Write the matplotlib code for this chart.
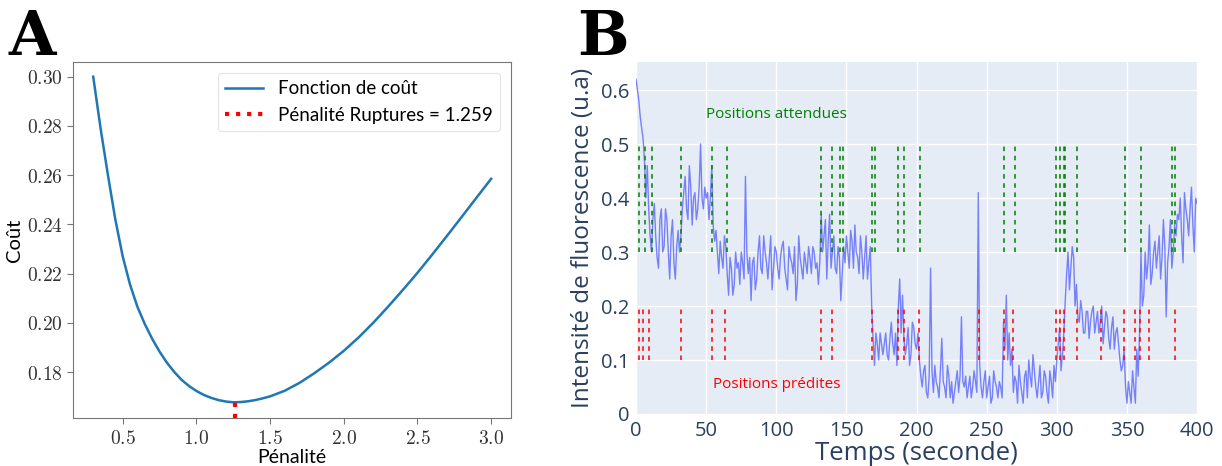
import numpy as np
import matplotlib
matplotlib.use("Agg")
import matplotlib.pyplot as plt
from matplotlib.ticker import FuncFormatter, MultipleLocator

plt.rcParams["mathtext.fontset"] = "cm"

# --- panneau A : fonction de coût en fonction de la pénalité
penalite = [0.30, 0.35, 0.40, 0.45, 0.50, 0.55, 0.60, 0.65, 0.70, 0.75, 0.80,
            0.85, 0.90, 0.95, 1.00, 1.05, 1.10, 1.15, 1.20, 1.25, 1.30, 1.35,
            1.40, 1.45, 1.50, 1.6, 1.7, 1.8, 1.9, 2.0, 2.1, 2.2, 2.3, 2.4, 2.5,
            2.6, 2.7, 2.8, 2.9, 3.0]
cout = [0.300, 0.279, 0.260, 0.242, 0.227, 0.2155, 0.2065, 0.1995, 0.1935,
        0.1883, 0.1838, 0.1800, 0.1768, 0.1743, 0.1723, 0.1707, 0.1695, 0.1686,
        0.1680, 0.1677, 0.1678, 0.1681, 0.1686, 0.1693, 0.1701, 0.1724, 0.1756,
        0.1795, 0.1838, 0.1886, 0.1940, 0.2000, 0.2065, 0.2133, 0.2203, 0.2277,
        0.2353, 0.2430, 0.2508, 0.2585]
pen_opt = 1.259
cout_min = 0.1677
cout_bas = 0.1612  # bas de l'axe

# --- panneau B : trace d'intensité, secondes paires puis impaires
intensite_paire = [
    0.62, 0.58, 0.53, 0.47, 0.46, 0.33, 0.36, 0.33, 0.27, 0.38,
    0.31, 0.36, 0.25, 0.36, 0.25, 0.34, 0.33, 0.41, 0.38, 0.46,
    0.35, 0.41, 0.38, 0.50, 0.38, 0.40, 0.36, 0.46, 0.32, 0.30,
    0.32, 0.27, 0.31, 0.22, 0.27, 0.24, 0.27, 0.24, 0.28, 0.44,
    0.26, 0.21, 0.29, 0.25, 0.33, 0.26, 0.30, 0.25, 0.33, 0.27,
    0.30, 0.25, 0.31, 0.27, 0.23, 0.29, 0.26, 0.21, 0.33, 0.27,
    0.30, 0.26, 0.29, 0.31, 0.27, 0.24, 0.37, 0.33, 0.25, 0.37,
    0.30, 0.27, 0.31, 0.21, 0.31, 0.33, 0.27, 0.32, 0.35, 0.29,
    0.33, 0.25, 0.33, 0.28, 0.20, 0.09, 0.13, 0.15, 0.11, 0.15,
    0.10, 0.17, 0.11, 0.09, 0.25, 0.22, 0.11, 0.16, 0.11, 0.16,
    0.12, 0.10, 0.05, 0.09, 0.03, 0.27, 0.04, 0.06, 0.03, 0.14,
    0.05, 0.09, 0.03, 0.02, 0.06, 0.04, 0.18, 0.05, 0.03, 0.07,
    0.05, 0.06, 0.41, 0.05, 0.06, 0.03, 0.07, 0.03, 0.06, 0.03,
    0.05, 0.17, 0.22, 0.15, 0.12, 0.07, 0.02, 0.06, 0.02, 0.08,
    0.10, 0.05, 0.08, 0.03, 0.09, 0.04, 0.07, 0.02, 0.06, 0.09,
    0.10, 0.16, 0.11, 0.21, 0.30, 0.27, 0.29, 0.24, 0.17, 0.19,
    0.15, 0.19, 0.17, 0.20, 0.17, 0.15, 0.20, 0.16, 0.18, 0.12,
    0.18, 0.15, 0.13, 0.08, 0.12, 0.02, 0.04, 0.08, 0.02, 0.07,
    0.30, 0.22, 0.25, 0.35, 0.26, 0.32, 0.30, 0.25, 0.36, 0.18,
    0.31, 0.27, 0.35, 0.37, 0.40, 0.28, 0.38, 0.33, 0.42, 0.30,
    0.39,
]
intensite_impaire = [
    0.60, 0.55, 0.51, 0.40, 0.38, 0.30, 0.39, 0.29, 0.36, 0.30,
    0.38, 0.30, 0.33, 0.28, 0.31, 0.30, 0.38, 0.44, 0.36, 0.42,
    0.40, 0.36, 0.42, 0.40, 0.42, 0.41, 0.40, 0.35, 0.34, 0.26,
    0.29, 0.33, 0.26, 0.29, 0.22, 0.30, 0.28, 0.30, 0.25, 0.30,
    0.29, 0.28, 0.23, 0.30, 0.27, 0.33, 0.28, 0.29, 0.23, 0.31,
    0.27, 0.29, 0.32, 0.25, 0.31, 0.28, 0.31, 0.24, 0.29, 0.25,
    0.28, 0.31, 0.26, 0.30, 0.28, 0.28, 0.30, 0.36, 0.32, 0.27,
    0.33, 0.26, 0.29, 0.26, 0.28, 0.30, 0.34, 0.27, 0.30, 0.26,
    0.30, 0.29, 0.25, 0.31, 0.14, 0.15, 0.10, 0.13, 0.13, 0.11,
    0.14, 0.13, 0.15, 0.20, 0.15, 0.14, 0.13, 0.09, 0.17, 0.13,
    0.15, 0.07, 0.08, 0.04, 0.07, 0.08, 0.09, 0.05, 0.08, 0.06,
    0.03, 0.07, 0.06, 0.04, 0.08, 0.07, 0.06, 0.07, 0.05, 0.03,
    0.08, 0.04, 0.09, 0.03, 0.08, 0.05, 0.02, 0.08, 0.05, 0.06,
    0.03, 0.12, 0.10, 0.09, 0.04, 0.06, 0.09, 0.04, 0.07, 0.03,
    0.07, 0.11, 0.05, 0.06, 0.03, 0.08, 0.04, 0.08, 0.03, 0.06,
    0.13, 0.08, 0.15, 0.26, 0.23, 0.31, 0.20, 0.18, 0.21, 0.15,
    0.19, 0.14, 0.19, 0.15, 0.19, 0.17, 0.13, 0.19, 0.14, 0.16,
    0.12, 0.16, 0.10, 0.09, 0.05, 0.06, 0.02, 0.05, 0.12, 0.15,
    0.20, 0.30, 0.28, 0.24, 0.30, 0.27, 0.33, 0.29, 0.31, 0.28,
    0.36, 0.30, 0.33, 0.36, 0.33, 0.41, 0.36, 0.38, 0.35, 0.40,
]
intensite = np.empty(len(intensite_paire) + len(intensite_impaire))
intensite[0::2] = intensite_paire
intensite[1::2] = intensite_impaire
temps = np.arange(len(intensite))  # une valeur par seconde

pos_attendues = [2.4, 6.4, 11.2, 32.1, 54.0, 65.1, 132.2, 139.5, 145.5, 147.4,
                 168.0, 170.4, 186.6, 191.1, 202.6, 262.6, 270.2, 299.7, 302.6,
                 304.8, 305.8, 314.2, 348.7, 360.2, 382.0, 384.6]
pos_predites = [2.4, 5.2, 9.3, 32.1, 54.0, 63.2, 132.2, 139.7, 168.2, 186.6,
                191.1, 202.0, 244.6, 262.3, 269.0, 299.7, 302.5, 305.0, 314.2,
                331.6, 347.8, 356.0, 359.4, 365.6, 384.6]

PLOTLY_TXT = "#2a3f5f"

fig = plt.figure(figsize=(12.22, 4.66), dpi=100)

# ---------------- A
axA = fig.add_axes([0.0600, 0.1024, 0.3582, 0.7652])
axA.plot(penalite, cout, color="#1f77b4", lw=1.8, label="Fonction de coût")
axA.vlines(pen_opt, cout_bas, cout_min, colors="red", linestyles=":", lw=3,
           label=f"Pénalité Ruptures = {pen_opt}")
axA.set_xlim(0.165, 3.135)
axA.set_ylim(cout_bas, 0.3061)
axA.xaxis.set_major_locator(MultipleLocator(0.5))
axA.yaxis.set_major_locator(MultipleLocator(0.02))
axA.xaxis.set_major_formatter(FuncFormatter(lambda v, p: f"${v:.1f}$"))
axA.yaxis.set_major_formatter(FuncFormatter(lambda v, p: f"${v:.2f}$"))
axA.tick_params(labelsize=14, color="#777", labelcolor="#333", length=4)
for s in axA.spines.values():
    s.set_color("#777")
axA.set_xlabel("Pénalité", fontsize=14, family="Lato", labelpad=1)
axA.set_ylabel("Coût", fontsize=14.5, family="Lato", labelpad=3)
leg = axA.legend(loc="upper right", prop={"family": "Lato", "size": 13.5},
                 frameon=True, fancybox=True, edgecolor="#dddddd",
                 borderaxespad=0.6)
leg.get_frame().set_linewidth(0.8)

fig.text(0.007, 0.882, "A", fontsize=44, weight="bold", family="DejaVu Serif",
         va="baseline")

# ---------------- B
axB = fig.add_axes([0.5205, 0.1116, 0.4591, 0.7554])
axB.set_facecolor("#E5ECF6")
axB.grid(True, color="white", lw=1)
axB.set_axisbelow(True)
for s in axB.spines.values():
    s.set_visible(False)
axB.plot(temps, intensite, color="#636efa", lw=1.0, alpha=0.85, zorder=3)
axB.vlines(pos_attendues, 0.3, 0.5, colors="green", linestyles=(0, (3, 3)),
           lw=1.1, zorder=4)
axB.vlines(pos_predites, 0.1, 0.2, colors="red", linestyles=(0, (3, 3)),
           lw=1.1, zorder=4)
axB.text(100, 0.555, "Positions attendues", color="green", fontsize=11,
         family="Open Sans", ha="center", va="center")
axB.text(100, 0.055, "Positions prédites", color="red", fontsize=11,
         family="Open Sans", ha="center", va="center")
axB.set_xlim(0, 400)
axB.set_ylim(0, 0.652)
axB.set_xticks(np.arange(0, 401, 50))
axB.set_yticks(np.arange(0, 0.61, 0.1))
axB.xaxis.set_major_formatter(FuncFormatter(lambda v, p: f"{v:g}"))
axB.yaxis.set_major_formatter(FuncFormatter(lambda v, p: f"{round(v, 1):g}"))
axB.tick_params(length=0, labelsize=14.5, labelcolor=PLOTLY_TXT, pad=5)
for lbl in axB.get_xticklabels() + axB.get_yticklabels():
    lbl.set_family("Open Sans")
axB.set_xlabel("Temps (seconde)", fontsize=18.5, family="Open Sans",
               color=PLOTLY_TXT, labelpad=0)
axB.set_ylabel("Intensité de fluorescence (u.a)", fontsize=17.5,
               family="Open Sans", color=PLOTLY_TXT, labelpad=4)

fig.text(0.472, 0.882, "B", fontsize=44, weight="bold", family="DejaVu Serif",
         va="baseline")

fig.savefig("out.png", dpi=100)
